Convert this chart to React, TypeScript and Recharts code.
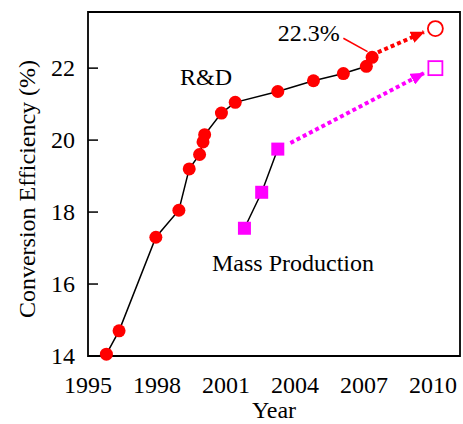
import React from "react";
import {
  ComposedChart,
  Line,
  XAxis,
  YAxis,
  ReferenceArea,
  ReferenceLine,
  ReferenceDot,
  Scatter,
} from "recharts";

// R&D record cells
const rdYears = [1995.8, 1996.35, 1997.95, 1998.95, 1999.4, 1999.85, 2000.0, 2000.07, 2000.8, 2001.4, 2003.25, 2004.8, 2006.1, 2007.1, 2007.35];
const rdEff = [14.05, 14.7, 17.3, 18.05, 19.2, 19.6, 19.95, 20.15, 20.75, 21.05, 21.35, 21.65, 21.85, 22.05, 22.3];

// mass production
const mpYears = [2001.8, 2002.55, 2003.25];
const mpEff = [17.55, 18.55, 19.75];

// 2010 targets (open markers)
const targetYears = [2010.1, 2010.1];
const targetEff = [23.1, 22.0];

// dotted arrows: start -> tip
const rdArrowYears = [2007.6, 2009.6];
const rdArrowEff = [22.44, 23.0];
const mpArrowYears = [2003.8, 2009.6];
const mpArrowEff = [19.92, 21.86];

const xTicks = [1995, 1998, 2001, 2004, 2007, 2010];
const yTicks = [14, 16, 18, 20, 22];
const X_MIN = 1995;
const X_MAX = 2011.17;
const Y_MIN = 14;
const Y_MAX = 23.56;

const RED = "#ff0000";
const MAGENTA = "#ff00ff";
const FONT = "'Liberation Serif', 'Times New Roman', serif";

const zip = (xs: number[], ys: number[]) => xs.map((x, i) => ({ x, y: ys[i] }));

const rdData = zip(rdYears, rdEff);
const mpData = zip(mpYears, mpEff);
const rdArrow = zip(rdArrowYears, rdArrowEff);
const mpArrow = zip(mpArrowYears, mpArrowEff);

const YTick = (props: any) => {
  const { x, y, payload } = props;
  return (
    <g>
      <line x1={x + 13} x2={x + 23} y1={y} y2={y} stroke="#000" strokeWidth={1.5} />
      <text x={x} y={y} textAnchor="end" dominantBaseline="central" fontSize={24} fontFamily={FONT} fill="#000">
        {payload.value}
      </text>
    </g>
  );
};

const RedDot = (props: any) => {
  const { cx, cy, index } = props;
  if (cx == null || cy == null) return <g key={index} />;
  return <circle key={index} cx={cx} cy={cy} r={6.5} fill={RED} />;
};

const MagentaSquare = (props: any) => {
  const { cx, cy, index } = props;
  if (cx == null || cy == null) return <g key={index} />;
  return <rect key={index} x={cx - 6.5} y={cy - 6.5} width={13} height={13} fill={MAGENTA} />;
};

const TargetShape = (props: any) => {
  const { cx, cy, index } = props;
  if (index === 0) {
    return <circle cx={cx} cy={cy} r={7.5} fill="none" stroke={RED} strokeWidth={1.8} />;
  }
  return <rect x={cx - 7} y={cy - 7} width={14} height={14} fill="none" stroke={MAGENTA} strokeWidth={1.8} />;
};

const labelStyle = { fontSize: 24, fontFamily: FONT, fill: "#000" };

export default function App() {
  return (
    <div style={{ position: "absolute", left: 0, top: 0, fontFamily: FONT }}>
      <svg width={0} height={0} style={{ position: "absolute" }}>
        <defs>
          <marker id="arrowRed" markerUnits="userSpaceOnUse" markerWidth={14} markerHeight={12} refX={13} refY={6} orient="auto">
            <path d="M0,0 L14,6 L0,12 z" fill={RED} />
          </marker>
          <marker id="arrowMag" markerUnits="userSpaceOnUse" markerWidth={14} markerHeight={12} refX={13} refY={6} orient="auto">
            <path d="M0,0 L14,6 L0,12 z" fill={MAGENTA} />
          </marker>
        </defs>
      </svg>
      <ComposedChart width={463} height={424} margin={{ top: 12, right: 3, bottom: 28, left: 0 }}>
        <XAxis
          type="number"
          dataKey="x"
          domain={[X_MIN, X_MAX]}
          ticks={xTicks}
          axisLine={false}
          tickLine={false}
          tickSize={0}
          tickMargin={20}
          height={40}
          tick={{ fontSize: 24, fontFamily: FONT, fill: "#000" }}
          label={{ value: "Year", position: "insideBottom", offset: -22, ...labelStyle }}
        />
        <YAxis
          type="number"
          dataKey="y"
          domain={[Y_MIN, Y_MAX]}
          ticks={yTicks}
          axisLine={false}
          tickLine={false}
          tickSize={0}
          tickMargin={13}
          width={88}
          tick={<YTick />}
          label={{
            content: () => (
              <text
                x={27}
                y={189}
                transform="rotate(-90 27 189)"
                textAnchor="middle"
                dominantBaseline="central"
                fontSize={24}
                fontFamily={FONT}
                fill="#000"
              >
                Conversion Efficiency (%)
              </text>
            ),
          }}
        />
        <ReferenceArea
          x1={X_MIN}
          x2={X_MAX}
          y1={Y_MIN}
          y2={Y_MAX}
          fill="none"
          stroke="#000"
          strokeWidth={1.8}
          ifOverflow="visible"
        />
        <Line
          data={rdArrow}
          dataKey="y"
          type="linear"
          stroke={RED}
          strokeWidth={4}
          strokeDasharray="4 3"
          dot={false}
          activeDot={false}
          markerEnd="url(#arrowRed)"
          isAnimationActive={false}
        />
        <Line
          data={mpArrow}
          dataKey="y"
          type="linear"
          stroke={MAGENTA}
          strokeWidth={4}
          strokeDasharray="4 3"
          dot={false}
          activeDot={false}
          markerEnd="url(#arrowMag)"
          isAnimationActive={false}
        />
        <Line
          data={rdData}
          dataKey="y"
          type="linear"
          stroke="#000"
          strokeWidth={1.5}
          dot={<RedDot />}
          activeDot={false}
          isAnimationActive={false}
        />
        <Line
          data={mpData}
          dataKey="y"
          type="linear"
          stroke="#000"
          strokeWidth={1.5}
          dot={<MagentaSquare />}
          activeDot={false}
          isAnimationActive={false}
        />
        <Scatter data={zip(targetYears, targetEff)} dataKey="y" shape={<TargetShape />} isAnimationActive={false} />
        <ReferenceLine
          segment={[
            { x: 2006.1, y: 22.83 },
            { x: 2007.15, y: 22.46 },
          ]}
          stroke={RED}
          strokeWidth={1.5}
          ifOverflow="visible"
        />
        <ReferenceDot x={2004.6} y={23.0} r={0} fill="none" stroke="none" label={{ value: "22.3%", position: "center", ...labelStyle }} />
        <ReferenceDot x={2000.13} y={21.78} r={0} fill="none" stroke="none" label={{ value: "R&D", position: "center", ...labelStyle }} />
        <ReferenceDot x={2003.91} y={16.6} r={0} fill="none" stroke="none" label={{ value: "Mass Production", position: "center", ...labelStyle }} />
      </ComposedChart>
    </div>
  );
}
